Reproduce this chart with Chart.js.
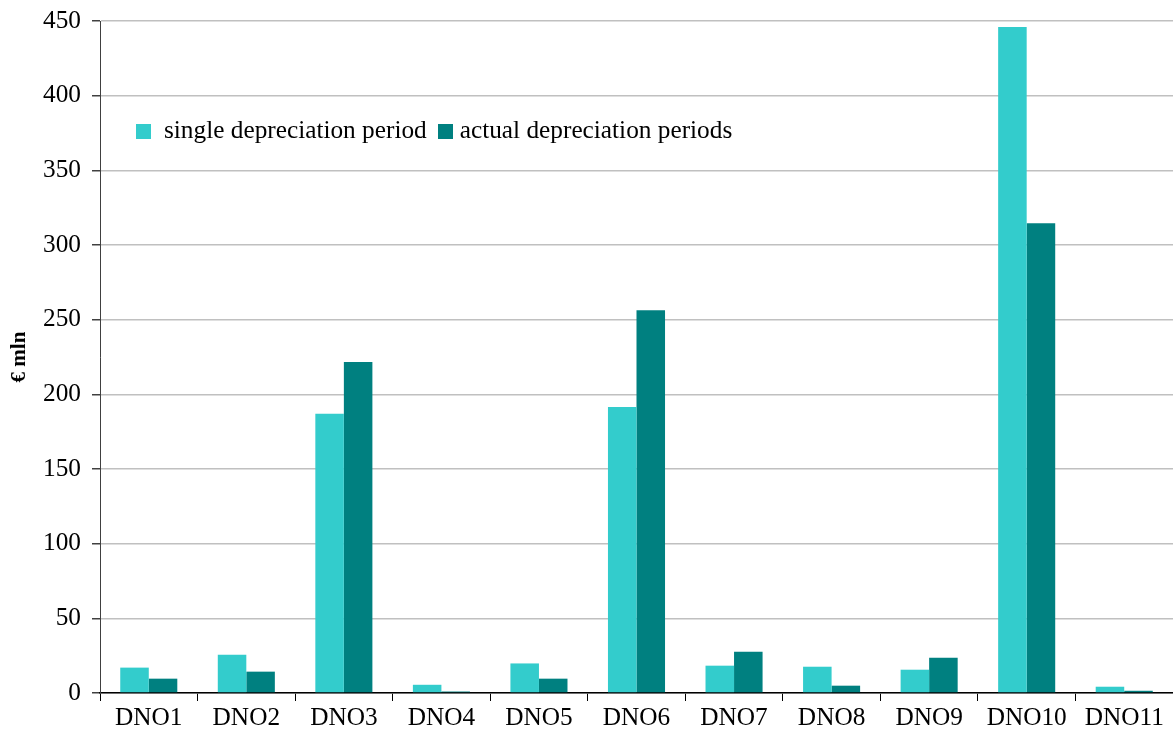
<!DOCTYPE html>
<html>
<head>
<meta charset="utf-8">
<script src="https://cdn.jsdelivr.net/npm/chart.js@4/dist/chart.umd.min.js"></script>
<style>
  html, body { margin: 0; padding: 0; background: #fff; }
  #wrap { position: relative; width: 1173px; height: 744px; }
  #legend { position: absolute; left: 136px; top: 115px; font-family: "Liberation Serif", "Times New Roman", serif; font-size: 25.3px; color: #000; white-space: nowrap; }
  #legend span.box { display: inline-block; width: 15px; height: 15px; vertical-align: -1px; }
</style>
</head>
<body>
<div id="wrap">
  <canvas id="chart" width="1173" height="744"></canvas>
  <div id="legend"></div>
</div>
<script>
// Asset-value series per distribution network operator, € mln
const categories = ['DNO1', 'DNO2', 'DNO3', 'DNO4', 'DNO5', 'DNO6', 'DNO7', 'DNO8', 'DNO9', 'DNO10', 'DNO11'];
const singlePeriod = [17, 25.6, 187, 5.5, 19.8, 191.5, 18.3, 17.6, 15.6, 446, 4.2];
const actualPeriods = [9.6, 14.3, 221.7, 1, 9.6, 256.4, 27.6, 4.9, 23.6, 314.6, 1.5];
const seriesNames = ['single depreciation period', 'actual depreciation periods'];
const seriesColors = ['#33CCCC', '#008080'];
const yTicks = [0, 50, 100, 150, 200, 250, 300, 350, 400, 450];

const fontFamily = '"Liberation Serif", "Times New Roman", serif';
const font = { family: fontFamily, size: 25.3 };

// Legend placed inside the plot area
const legend = document.getElementById('legend');
seriesNames.forEach((name, i) => {
  const box = document.createElement('span');
  box.className = 'box';
  box.style.background = seriesColors[i];
  box.style.marginLeft = i === 0 ? '0px' : '11px';
  const lbl = document.createElement('span');
  lbl.style.marginLeft = i === 0 ? '13px' : '7px';
  lbl.textContent = name;
  legend.appendChild(box);
  legend.appendChild(lbl);
});

new Chart(document.getElementById('chart'), {
  type: 'bar',
  data: {
    labels: categories,
    datasets: [
      { label: seriesNames[0], data: singlePeriod, backgroundColor: seriesColors[0] },
      { label: seriesNames[1], data: actualPeriods, backgroundColor: seriesColors[1] }
    ]
  },
  options: {
    responsive: false,
    animation: false,
    layout: { padding: { top: 0, right: 0, left: 0, bottom: 0 } },
    datasets: { bar: { categoryPercentage: 0.585, barPercentage: 1.0 } },
    plugins: { legend: { display: false }, tooltip: { enabled: false } },
    scales: {
      x: {
        grid: { display: true, drawOnChartArea: false, drawTicks: true, tickLength: 8, color: '#000', offset: true },
        border: { display: true, color: '#000', width: 1.5 },
        ticks: { color: '#000', font: font, padding: 2, maxRotation: 0, autoSkip: false },
        afterFit: (s) => { s.height = 51; }
      },
      y: {
        min: 0,
        max: 450,
        afterBuildTicks: (s) => { s.ticks = yTicks.map(v => ({ value: v })); },
        grid: { color: '#c0c0c0', lineWidth: 1.5, tickColor: '#404040', tickLength: 8, drawTicks: true },
        border: { display: true, color: '#404040', width: 1 },
        ticks: { color: '#000', font: { family: fontFamily, size: 25.3, lineHeight: 0.8 }, padding: 11 },
        title: { display: true, text: '€ mln', color: '#000', font: { family: fontFamily, size: 21, weight: 'bold' }, padding: { top: 7, bottom: 0 } },
        afterFit: (s) => { s.width = 100; }
      }
    }
  }
});
</script>
</body>
</html>
